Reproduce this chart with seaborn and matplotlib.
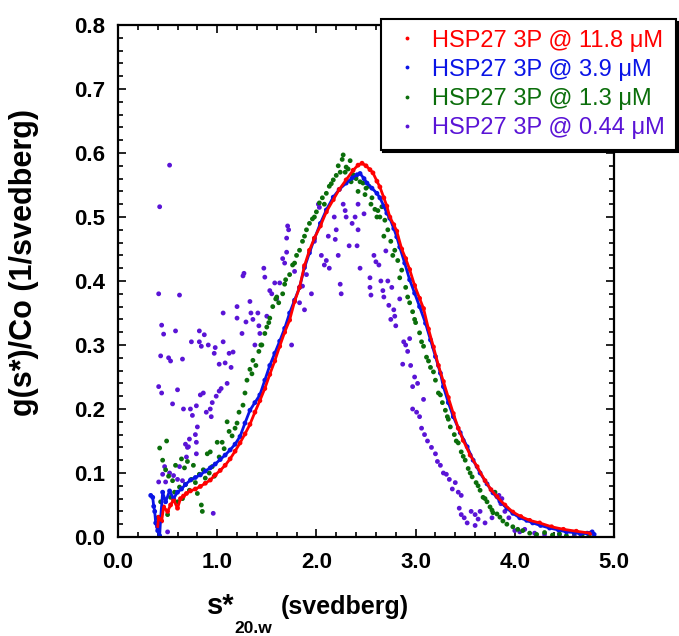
import matplotlib
matplotlib.use("Agg")
import matplotlib.pyplot as plt
from matplotlib.ticker import MultipleLocator, FormatStrFormatter
import pandas as pd
import seaborn as sns

# ---- data ----
labels = ["HSP27 3P @ 11.8 \u03bcM", "HSP27 3P @ 3.9 \u03bcM",
          "HSP27 3P @ 1.3 \u03bcM", "HSP27 3P @ 0.44 \u03bcM"]
colors = ["#ff0000", "#0a14e6", "#0b6e0b", "#5a14d6"]

red_x = [0.40, 0.41, 0.44, 0.46, 0.50, 0.53, 0.56, 0.60, 0.63, 0.66, 0.69, 0.73, 0.78, 0.83,
         0.88, 0.93, 0.98, 1.03, 1.08, 1.13, 1.18, 1.23, 1.28, 1.33, 1.38, 1.43, 1.48, 1.53,
         1.58, 1.63, 1.68, 1.73, 1.78, 1.83, 1.88, 1.93, 1.98, 2.04, 2.10, 2.17, 2.23, 2.30,
         2.37, 2.42, 2.46, 2.50, 2.54, 2.57, 2.61, 2.64, 2.68, 2.71, 2.74, 2.78, 2.81, 2.86,
         2.90, 2.94, 2.99, 3.04, 3.08, 3.13, 3.18, 3.23, 3.28, 3.33, 3.38, 3.43, 3.48, 3.55,
         3.62, 3.70, 3.76, 3.82, 3.90, 3.98, 4.06, 4.15, 4.25, 4.37, 4.49, 4.62, 4.76]
red_y = [0.016, 0.031, 0.025, 0.047, 0.040, 0.050, 0.058, 0.045, 0.060, 0.064, 0.068, 0.072,
         0.075, 0.079, 0.084, 0.089, 0.097, 0.104, 0.112, 0.122, 0.134, 0.147, 0.161, 0.176,
         0.195, 0.213, 0.232, 0.254, 0.275, 0.298, 0.320, 0.339, 0.368, 0.390, 0.424, 0.448,
         0.467, 0.486, 0.508, 0.527, 0.543, 0.558, 0.573, 0.581, 0.584, 0.580, 0.574, 0.569,
         0.556, 0.547, 0.530, 0.517, 0.500, 0.488, 0.478, 0.450, 0.435, 0.418, 0.393, 0.373,
         0.357, 0.325, 0.297, 0.268, 0.243, 0.218, 0.193, 0.170, 0.151, 0.128, 0.110, 0.088,
         0.074, 0.063, 0.050, 0.039, 0.032, 0.026, 0.022, 0.016, 0.012, 0.009, 0.006]

blue_x = [0.33, 0.35, 0.36, 0.37, 0.38, 0.40, 0.42, 0.43, 0.45, 0.48, 0.52, 0.56, 0.60, 0.64,
          0.68, 0.73, 0.78, 0.83, 0.88, 0.93, 0.98, 1.03, 1.08, 1.13, 1.18, 1.23, 1.28, 1.33,
          1.38, 1.43, 1.48, 1.53, 1.58, 1.63, 1.68, 1.73, 1.78, 1.83, 1.88, 1.93, 1.98, 2.04,
          2.10, 2.17, 2.23, 2.30, 2.36, 2.41, 2.44, 2.48, 2.51, 2.56, 2.61, 2.64, 2.68, 2.71,
          2.74, 2.78, 2.81, 2.84, 2.89, 2.94, 2.99, 3.04, 3.10, 3.15, 3.20, 3.25, 3.28, 3.33,
          3.38, 3.45, 3.52, 3.58, 3.65, 3.72, 3.78, 3.85, 3.92, 3.98, 4.05, 4.12, 4.18, 4.26,
          4.35, 4.44, 4.52, 4.60, 4.66, 4.73, 4.78, 4.80]
blue_y = [0.065, 0.062, 0.048, 0.040, 0.022, 0.010, 0.002, 0.030, 0.070, 0.055, 0.072, 0.060,
          0.070, 0.075, 0.082, 0.089, 0.093, 0.097, 0.103, 0.108, 0.114, 0.121, 0.128, 0.136,
          0.145, 0.157, 0.178, 0.198, 0.210, 0.222, 0.245, 0.268, 0.287, 0.306, 0.326, 0.350,
          0.370, 0.390, 0.421, 0.444, 0.466, 0.490, 0.511, 0.531, 0.543, 0.553, 0.561, 0.566,
          0.568, 0.560, 0.553, 0.545, 0.537, 0.530, 0.517, 0.506, 0.498, 0.482, 0.469, 0.453,
          0.428, 0.402, 0.381, 0.360, 0.334, 0.308, 0.282, 0.256, 0.235, 0.210, 0.188, 0.163,
          0.141, 0.120, 0.100, 0.083, 0.069, 0.056, 0.045, 0.037, 0.030, 0.026, 0.022, 0.018,
          0.014, 0.011, 0.008, 0.007, 0.005, 0.006, 0.008, 0.004]

green_x = [0.40, 0.42, 0.43, 0.45, 0.46, 0.48, 0.49, 0.50, 0.51, 0.53, 0.55, 0.57, 0.58, 0.60,
           0.62, 0.64, 0.65, 0.67, 0.68, 0.70, 0.72, 0.74, 0.76, 0.78, 0.80, 0.82, 0.84, 0.85,
           0.86, 0.88, 0.90, 0.92, 0.93, 0.95, 0.97, 1.00, 1.02, 1.05, 1.07, 1.10, 1.12, 1.15,
           1.18, 1.20, 1.22, 1.26, 1.28, 1.30, 1.33, 1.36, 1.39, 1.42, 1.45, 1.48, 1.50, 1.53,
           1.56, 1.59, 1.62, 1.66, 1.69, 1.73, 1.76, 1.80, 1.83, 1.86, 1.90, 1.93, 1.96, 2.00,
           2.03, 2.06, 2.10, 2.13, 2.17, 2.20, 2.24, 2.26, 2.27, 2.30, 2.32, 2.34, 2.37, 2.40,
           2.44, 2.47, 2.50, 2.53, 2.56, 2.59, 2.62, 2.64, 2.66, 2.69, 2.72, 2.75, 2.79, 2.82,
           2.86, 2.90, 2.94, 2.97, 3.00, 3.04, 3.08, 3.11, 3.15, 3.20, 3.23, 3.27, 3.30, 3.33,
           3.35, 3.39, 3.43, 3.46, 3.50, 3.53, 3.57, 3.61, 3.65, 3.68, 3.72, 3.75, 3.78, 3.80,
           3.82, 3.85, 3.88, 3.92, 3.98, 4.03, 4.08, 4.15, 4.22, 4.30, 4.38, 4.45, 4.52, 4.60,
           4.68, 4.75,
           1.35, 1.44, 1.52, 1.60, 1.68, 1.78, 1.88, 1.98, 2.08, 2.15, 2.22, 2.29, 2.35, 2.42,
           2.49, 2.55, 2.61, 2.68, 2.77, 2.84, 2.92, 2.99, 3.06, 3.13, 3.18, 3.25, 3.32, 3.41,
           3.48, 3.55, 3.63, 3.70, 3.77]
green_y = [0.030, 0.139, 0.055, 0.120, 0.045, 0.105, 0.150, 0.035, 0.095, 0.062, 0.088, 0.070,
           0.112, 0.055, 0.078, 0.122, 0.060, 0.108, 0.082, 0.118, 0.073, 0.090, 0.112, 0.085,
           0.068, 0.098, 0.050, 0.040, 0.105, 0.092, 0.130, 0.100, 0.133, 0.110, 0.095, 0.148,
           0.125, 0.148, 0.138, 0.180, 0.165, 0.158, 0.170, 0.178, 0.195, 0.206, 0.225, 0.245,
           0.262, 0.276, 0.268, 0.290, 0.300, 0.318, 0.328, 0.342, 0.360, 0.372, 0.366, 0.380,
           0.402, 0.410, 0.425, 0.440, 0.448, 0.462, 0.480, 0.490, 0.497, 0.508, 0.522, 0.530,
           0.537, 0.548, 0.558, 0.565, 0.570, 0.590, 0.597, 0.578, 0.575, 0.588, 0.566, 0.560,
           0.555, 0.553, 0.545, 0.548, 0.530, 0.512, 0.510, 0.500, 0.516, 0.495, 0.480, 0.462,
           0.448, 0.432, 0.417, 0.390, 0.366, 0.352, 0.335, 0.319, 0.298, 0.281, 0.265, 0.245,
           0.225, 0.210, 0.198, 0.184, 0.172, 0.160, 0.147, 0.133, 0.120, 0.107, 0.094, 0.085,
           0.073, 0.062, 0.055, 0.047, 0.038, 0.070, 0.036, 0.031, 0.025, 0.020, 0.016, 0.012,
           0.010, 0.006, 0.004, 0.007, 0.003, 0.005, 0.002, 0.006, 0.004, 0.003,
           0.255, 0.300, 0.335, 0.375, 0.395, 0.428, 0.470, 0.500, 0.520, 0.552, 0.580, 0.570,
           0.555, 0.540, 0.535, 0.520, 0.500, 0.470, 0.440, 0.405, 0.375, 0.340, 0.305, 0.275,
           0.258, 0.222, 0.188, 0.150, 0.126, 0.100, 0.080, 0.060, 0.042]

purple_x = [0.41, 0.42, 0.52, 0.62, 0.44, 0.46, 0.58, 0.43, 0.51, 0.53, 0.65, 0.74, 0.82, 0.82,
            0.87, 0.91, 0.84, 0.98, 1.06, 1.06, 0.97, 1.02, 1.08, 1.12, 1.16, 1.20, 1.20, 1.26,
            1.27, 1.29, 1.33, 1.34, 1.36, 1.41, 1.42, 1.43, 1.47, 1.48, 1.53, 1.55, 1.58, 1.63,
            1.66, 1.68, 1.70, 1.71, 1.72, 1.70, 1.83, 1.88, 1.86, 1.90, 2.02, 2.03, 2.05, 2.08,
            2.10, 2.13, 2.18, 2.20, 2.19, 2.22, 2.24, 2.25, 2.27, 2.29, 2.30, 2.36, 2.39, 2.42,
            2.42, 2.41, 2.44, 2.54, 2.54, 2.55, 2.60, 2.63, 2.65, 2.67, 2.68, 2.70, 2.72, 2.73,
            2.75, 2.76, 2.78, 2.79, 2.80, 2.88, 2.90, 2.92, 2.94, 2.87, 2.95, 2.99, 2.97, 3.02,
            2.97, 3.01, 3.04, 3.06, 3.09, 3.12, 3.16, 3.20, 3.25, 3.28, 3.31, 3.34, 3.40, 3.43,
            3.46, 3.44, 3.46, 3.49, 3.52, 3.56, 3.60, 3.63, 3.65, 3.60, 3.70, 3.77, 3.84, 3.87,
            3.86, 3.90, 3.94, 4.00, 4.05, 4.10, 4.20, 4.30, 4.45, 4.60,
            0.41, 0.44, 0.55, 0.60, 0.66, 0.73, 0.75, 0.79, 0.83, 0.86, 0.89, 0.95, 0.93, 0.94,
            0.78, 0.79, 0.68, 0.70, 0.69, 0.79, 0.45, 0.56, 0.60, 0.65, 0.52, 1.02, 1.04, 0.99,
            0.96, 0.50, 1.10, 1.14, 0.71, 0.47, 0.41, 0.48, 0.80, 0.72, 0.62, 1.75, 1.95,
            1.50, 1.60, 1.78, 1.98, 2.12, 2.33, 2.48, 2.58, 2.84, 3.08, 3.22, 3.37, 1.25, 1.38]
purple_y = [0.380, 0.516, 0.581, 0.378, 0.331, 0.317, 0.322, 0.283, 0.280, 0.275, 0.278, 0.305,
            0.322, 0.305, 0.316, 0.300, 0.298, 0.296, 0.350, 0.305, 0.287, 0.270, 0.272, 0.287,
            0.289, 0.360, 0.342, 0.408, 0.412, 0.336, 0.368, 0.350, 0.340, 0.350, 0.330, 0.318,
            0.420, 0.406, 0.385, 0.380, 0.397, 0.397, 0.435, 0.428, 0.445, 0.486, 0.480, 0.467,
            0.366, 0.355, 0.392, 0.410, 0.520, 0.515, 0.440, 0.425, 0.432, 0.420, 0.500, 0.480,
            0.465, 0.440, 0.395, 0.380, 0.520, 0.510, 0.500, 0.490, 0.500, 0.520, 0.480, 0.455,
            0.420, 0.405, 0.390, 0.378, 0.430, 0.425, 0.400, 0.385, 0.375, 0.447, 0.400, 0.362,
            0.340, 0.390, 0.355, 0.345, 0.330, 0.305, 0.300, 0.290, 0.310, 0.270, 0.268, 0.250,
            0.235, 0.240, 0.200, 0.195, 0.188, 0.170, 0.160, 0.150, 0.140, 0.130, 0.112, 0.100,
            0.098, 0.090, 0.085, 0.070, 0.065, 0.045, 0.035, 0.030, 0.022, 0.040, 0.035, 0.028,
            0.040, 0.018, 0.022, 0.030, 0.065, 0.060, 0.052, 0.040, 0.030, 0.010, 0.008, 0.012,
            0.006, 0.004, 0.003, 0.002,
            0.235, 0.225, 0.208, 0.230, 0.200, 0.200, 0.190, 0.205, 0.222, 0.225, 0.195, 0.210,
            0.200, 0.188, 0.160, 0.148, 0.145, 0.140, 0.125, 0.130, 0.098, 0.096, 0.090, 0.088,
            0.100, 0.228, 0.232, 0.220, 0.037, 0.008, 0.240, 0.265, 0.141, 0.110, 0.086, 0.086,
            0.172, 0.153, 0.110, 0.300, 0.380,
            0.345, 0.372, 0.415, 0.462, 0.470, 0.455, 0.505, 0.440, 0.372, 0.215, 0.118, 0.075,
            0.318, 0.300]

# long table, back-most series first so red ends up on top
frames = []
for lab, xs, ys in [(labels[3], purple_x, purple_y), (labels[2], green_x, green_y),
                    (labels[1], blue_x, blue_y), (labels[0], red_x, red_y)]:
    frames.append(pd.DataFrame({"s": xs, "g": ys, "sample": lab}))
df = pd.concat(frames, ignore_index=True)
palette = dict(zip(labels, colors))

sns.set_style("ticks")
plt.rcParams["font.family"] = ["Liberation Sans", "DejaVu Sans"]
plt.rcParams["text.color"] = "black"
plt.rcParams["axes.labelcolor"] = "black"
plt.rcParams["xtick.color"] = "black"
plt.rcParams["ytick.color"] = "black"

fig = plt.figure(figsize=(6.79, 6.36), dpi=100)
ax = fig.add_axes([118 / 679, 1 - 537 / 636, 496 / 679, 512 / 636])

# the two dense series look like solid traces
for lab in labels[1::-1]:
    sub = df[df["sample"] == lab]
    sns.lineplot(data=sub, x="s", y="g", color=palette[lab], lw=2.0, sort=True,
                 estimator=None, legend=False, ax=ax)

sns.scatterplot(data=df, x="s", y="g", hue="sample", hue_order=labels, palette=palette,
                s=12, linewidth=0, ax=ax)

ax.set_xlim(0, 5)
ax.set_ylim(0, 0.8)
ax.xaxis.set_major_locator(MultipleLocator(1))
ax.xaxis.set_minor_locator(MultipleLocator(0.2))
ax.yaxis.set_major_locator(MultipleLocator(0.1))
ax.yaxis.set_minor_locator(MultipleLocator(0.02))
ax.xaxis.set_major_formatter(FormatStrFormatter("%.1f"))
ax.yaxis.set_major_formatter(FormatStrFormatter("%.1f"))
ax.tick_params(which="both", direction="in", top=True, right=True, width=1.2,
               color="black", labelcolor="black")
ax.tick_params(which="major", length=6, pad=9)
ax.tick_params(which="minor", length=3.5)
ax.tick_params(axis="x", which="major", pad=11)
for lbl in ax.get_xticklabels() + ax.get_yticklabels():
    lbl.set_fontweight("bold")
    lbl.set_fontsize(16)
for sp in ax.spines.values():
    sp.set_linewidth(1.6)
    sp.set_color("black")
    sp.set_visible(True)

ax.set_xlabel("")
ax.set_ylabel("")
fig.text(24 / 679, 1 - 263 / 636, "g(s*)/Co (1/svedberg)", rotation=90, ha="center",
         va="center", fontsize=22, fontweight="bold")
fig.text(207 / 679, 1 - 614 / 636, "s*", fontsize=21, fontweight="bold", ha="left",
         va="baseline")
fig.text(234 / 679, 1 - 633 / 636, "20.w", fontsize=12.5, fontweight="bold", ha="left",
         va="baseline")
fig.text(281 / 679, 1 - 614 / 636, "(svedberg)", fontsize=18, fontweight="bold", ha="left",
         va="baseline")

handles, names = ax.get_legend_handles_labels()
ax.get_legend().remove()
leg = ax.legend(handles, names, loc="upper right", bbox_to_anchor=(676 / 679, 1 - 19 / 636),
                bbox_transform=fig.transFigure, borderaxespad=0, fontsize=17,
                frameon=True, fancybox=False, framealpha=1, edgecolor="black",
                shadow={"color": "black", "alpha": 1}, handlelength=1.3,
                handletextpad=0.45, labelspacing=0.3, borderpad=0.45, markerscale=0.8)
leg.get_frame().set_linewidth(1.5)
for txt, col in zip(leg.get_texts(), colors):
    txt.set_color(col)

fig.savefig("out.png", dpi=100)
plt.close(fig)
